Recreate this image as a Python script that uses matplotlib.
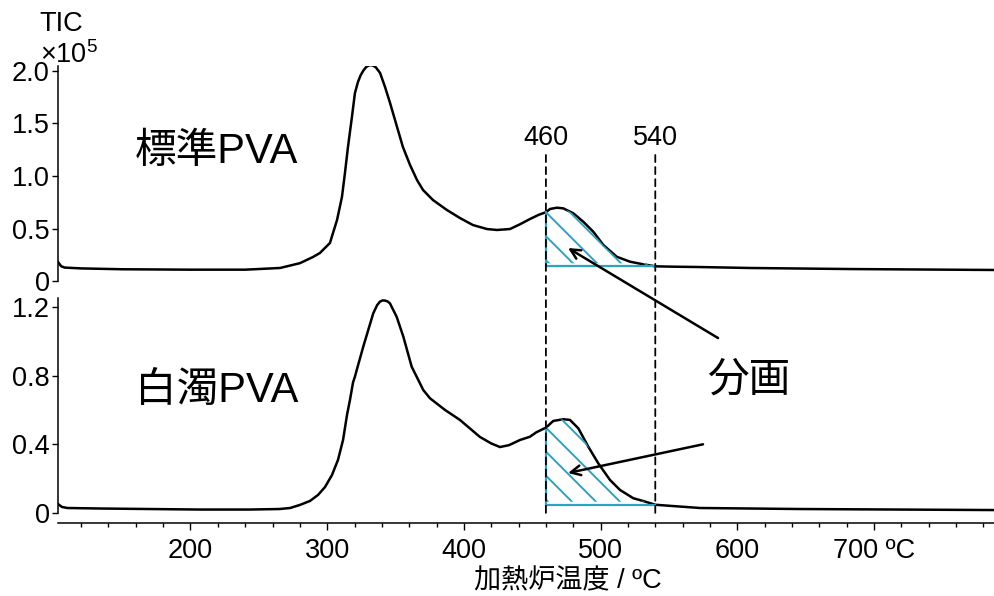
import numpy as np
import matplotlib
matplotlib.use("Agg")
import matplotlib.pyplot as plt
from matplotlib.patches import Polygon, ConnectionPatch
from matplotlib.ticker import MultipleLocator

plt.rcParams['font.family'] = ['Liberation Sans', 'Noto Sans CJK JP']
plt.rcParams['mathtext.fontset'] = 'custom'
plt.rcParams['mathtext.rm'] = 'Liberation Sans'

# 標準PVA: temperature (ºC) vs TIC (x10^5)
std_temp = [103.1, 105.5, 108, 120, 150, 200, 240, 265.5, 280.1, 289.8,
            294.7, 302.0, 307.2, 310.8, 313.0, 315.2, 318.1, 320.3, 322.5,
            324.5, 326.5, 328.7, 331.3, 333.5, 335.5, 338.7, 342.3, 346.0,
            351.1, 355.4, 360.6, 365.7, 370.1, 377.4, 387.6, 397.1, 406.6,
            416.9, 424.2, 433.7, 441.0, 448.3, 455, 460, 463, 467.9, 472.7,
            480, 487.3, 494.6, 502, 511.8, 521.5, 531.2, 540, 550.8, 572.7,
            609.3, 682.4, 788.5]
std_tic = [0.18, 0.14, 0.128, 0.12, 0.112, 0.108, 0.108, 0.124, 0.17, 0.23,
           0.267, 0.362, 0.581, 0.80, 1.029, 1.276, 1.562, 1.79, 1.895,
           1.96, 2.005, 2.04, 2.057, 2.052, 2.036, 1.981, 1.848, 1.695,
           1.467, 1.276, 1.105, 0.962, 0.867, 0.771, 0.676, 0.60, 0.533,
           0.495, 0.486, 0.495, 0.54, 0.59, 0.632, 0.655, 0.686, 0.698,
           0.692, 0.645, 0.565, 0.47, 0.343, 0.231, 0.184, 0.159, 0.14,
           0.137, 0.133, 0.124, 0.114, 0.105]

# 白濁PVA
wht_temp = [103.1, 106, 110, 134, 170, 207, 243, 265, 272.9, 280.1, 287.4,
            293.3, 298.4, 303.5, 307.9, 311.6, 314.5, 316.7, 318.9, 320.3,
            321.8, 326.4, 333.7, 336.5, 338.6, 340.5, 342.3, 344.2, 345.9,
            350.8, 355.7, 361.8, 370.3, 375.2, 386.2, 397.1, 411.7, 420,
            426.4, 433, 441, 448.3, 453, 460, 465.4, 472.7, 477.6, 483.7, 491,
            498.3, 506.9, 514.2, 523.9, 531, 540, 548.4, 572.7, 646, 788.5]
wht_tic = [0.052, 0.035, 0.029, 0.026, 0.023, 0.02, 0.02, 0.023, 0.029,
           0.047, 0.07, 0.105, 0.151, 0.221, 0.309, 0.425, 0.571, 0.66, 0.76,
           0.794, 0.838, 0.969, 1.163, 1.21, 1.231, 1.238, 1.237, 1.232,
           1.221, 1.143, 1.027, 0.852, 0.716, 0.668, 0.60, 0.542, 0.443,
           0.405, 0.384, 0.395, 0.425, 0.444, 0.47, 0.497, 0.536, 0.546,
           0.542, 0.493, 0.386, 0.289, 0.192, 0.134, 0.086, 0.07, 0.048,
           0.043, 0.029, 0.023, 0.017]

cut_lo, cut_hi = 460, 540
x_ticks = [200, 300, 400, 500, 600, 700]
x_labels = ['200', '300', '400', '500', '600', '700 ºC']
std_yticks = [0, 0.5, 1.0, 1.5, 2.0]
std_ylabels = ['0', '0.5', '1.0', '1.5', '2.0']
wht_yticks = [0, 0.4, 0.8, 1.2]
wht_ylabels = ['0', '0.4', '0.8', '1.2']

CYAN = '#2aa3c4'
FS = 19.5

fig = plt.figure(figsize=(9.95, 5.96), dpi=100)
ax1 = fig.add_axes([0.0583, 0.5285, 0.9417, 0.3612])
ax2 = fig.add_axes([0.0583, 0.1393, 0.9417, 0.3601])

for ax in (ax1, ax2):
    ax.set_facecolor('none')
    ax.set_xlim(103.1, 788.5)
    for s in ('top', 'right'):
        ax.spines[s].set_visible(False)
    ax.spines['left'].set_linewidth(1.1)
    ax.tick_params(axis='y', direction='out', length=4, width=1, pad=2,
                   labelsize=FS)

ax1.set_ylim(0, 2.05)
ax1.spines['bottom'].set_visible(False)
ax1.tick_params(axis='x', bottom=False, labelbottom=False)
ax1.set_yticks(std_yticks)
ax1.set_yticklabels(std_ylabels)

ax2.set_ylim(0, 1.25)
ax2.spines['bottom'].set_position(('outward', 7))
ax2.spines['bottom'].set_linewidth(1.1)
ax2.set_yticks(wht_yticks)
ax2.set_yticklabels(wht_ylabels)
ax2.set_xticks(x_ticks)
ax2.set_xticklabels(x_labels)
ax2.xaxis.set_minor_locator(MultipleLocator(20))
ax2.tick_params(axis='x', which='major', length=5, width=1, pad=6,
                labelsize=FS)
ax2.tick_params(axis='x', which='minor', length=3, width=1)

ax1.plot(std_temp, std_tic, color='black', lw=1.8, solid_joinstyle='round')
ax2.plot(wht_temp, wht_tic, color='black', lw=1.8, solid_joinstyle='round')


def shade(ax, temp, tic):
    temp = np.asarray(temp, float)
    tic = np.asarray(tic, float)
    sel = (temp >= cut_lo) & (temp <= cut_hi)
    xs, ys = temp[sel], tic[sel]
    base = ys[-1]
    bb = ax.get_window_extent()
    x0, x1 = ax.get_xlim()
    y0, y1 = ax.get_ylim()
    kx = bb.width / (x1 - x0)
    ky = bb.height / (y1 - y0)
    lift = 3 / ky
    verts = list(zip(xs, ys)) + [(cut_hi, base + lift), (cut_lo, base + lift)]
    clip = Polygon(verts, closed=True, fc='none', ec='none',
                   transform=ax.transData)
    ax.add_patch(clip)
    slope = kx / ky
    step = 24 / kx
    xx = np.array([cut_lo - 60, cut_hi + 60])
    for k in range(-8, 10):
        yy = ys[0] - slope * (xx - (cut_lo + k * step))
        ln, = ax.plot(xx, yy, color=CYAN, lw=1.4)
        ln.set_clip_path(clip)
    ax.plot([cut_lo, cut_lo, cut_hi], [ys[0], base, base], color=CYAN, lw=1.6)


shade(ax1, std_temp, std_tic)
shade(ax2, wht_temp, wht_tic)

# fraction boundaries running through both panels
for t in (cut_lo, cut_hi):
    con = ConnectionPatch(xyA=(t, 1.2), coordsA=ax1.transData,
                          xyB=(t, -0.025), coordsB=ax2.transData,
                          color='black', lw=1.3, linestyle=(0, (3.9, 2.8)))
    fig.add_artist(con)
    ax1.text(t, 1.36, str(t), ha='center', va='center', fontsize=FS)

ax1.text(218.7, 1.23, '標準PVA', ha='center', va='center', fontsize=30)
ax2.text(219.4, 0.71, '白濁PVA', ha='center', va='center', fontsize=30)
ax2.text(608.6, 0.77, '分画', ha='center', va='center', fontsize=30)

arrow = dict(arrowstyle='->,head_length=0.7,head_width=0.35',
             color='black', lw=1.8, shrinkA=0, shrinkB=0)
ax1.annotate('', xy=(476.2, 0.314), xytext=(585.9, -0.543),
             arrowprops=arrow, annotation_clip=False)
ax2.annotate('', xy=(476.2, 0.233), xytext=(574.9, 0.40),
             arrowprops=arrow, annotation_clip=False)

fig.text(61 / 995, 1 - 24 / 596, 'TIC', ha='center', va='center', fontsize=FS)
fig.text(69 / 995, 1 - 55 / 596, '×10$^5$', ha='center', va='center',
         fontsize=FS)
fig.text(568 / 995, 1 - 581 / 596, '加熱炉温度 / ºC', ha='center',
         va='center', fontsize=FS)

fig.savefig('out.png', dpi=100)
